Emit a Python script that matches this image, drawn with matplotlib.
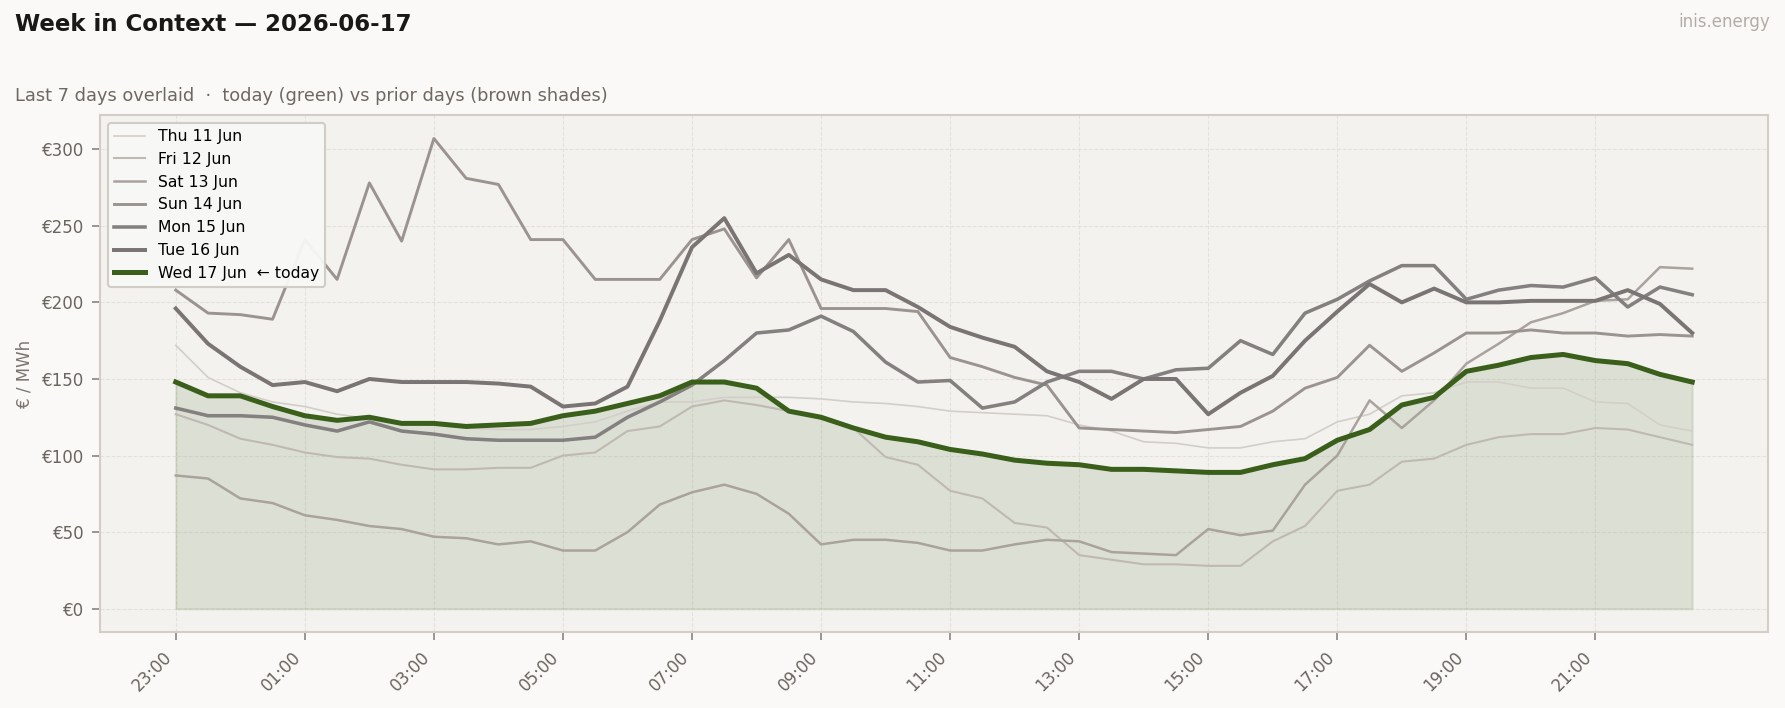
import matplotlib
matplotlib.use('Agg')
import matplotlib.pyplot as plt
from matplotlib import ticker
import numpy as np

# half-hour slots, 23:00 .. 22:30
tick_labels = ["23:00", "01:00", "03:00", "05:00", "07:00", "09:00",
               "11:00", "13:00", "15:00", "17:00", "19:00", "21:00"]

day_names = ["Thu 11 Jun", "Fri 12 Jun", "Sat 13 Jun", "Sun 14 Jun",
             "Mon 15 Jun", "Tue 16 Jun"]
today_name = "Wed 17 Jun  \u2190 today"

thu = [172, 151, 141, 135, 132, 127, 124, 121, 120, 118, 117, 117, 119, 122, 129, 135,
       135, 138, 138, 138, 137, 135, 134, 132, 129, 128, 127, 126, 120, 116, 109, 108,
       105, 105, 109, 111, 122, 127, 139, 141, 148, 148, 144, 144, 135, 134, 120, 116]
fri = [127, 120, 111, 107, 102, 99, 98, 94, 91, 91, 92, 92, 100, 102, 116, 119,
       132, 136, 133, 129, 124, 118, 99, 94, 77, 72, 56, 53, 35, 32, 29, 29,
       28, 28, 44, 54, 77, 81, 96, 98, 107, 112, 114, 114, 118, 117, 112, 107]
sat = [87, 85, 72, 69, 61, 58, 54, 52, 47, 46, 42, 44, 38, 38, 50, 68,
       76, 81, 75, 62, 42, 45, 45, 43, 38, 38, 42, 45, 44, 37, 36, 35,
       52, 48, 51, 81, 100, 136, 118, 136, 160, 173, 187, 193, 201, 202, 223, 222]
sun = [208, 193, 192, 189, 241, 215, 278, 240, 307, 281, 277, 241, 241, 215, 215, 215,
       241, 248, 216, 241, 196, 196, 196, 194, 164, 158, 151, 146, 118, 117, 116, 115,
       117, 119, 129, 144, 151, 172, 155, 167, 180, 180, 182, 180, 180, 178, 179, 178]
mon = [131, 126, 126, 125, 120, 116, 122, 116, 114, 111, 110, 110, 110, 112, 125, 135,
       146, 162, 180, 182, 191, 181, 161, 148, 149, 131, 135, 148, 155, 155, 150, 156,
       157, 175, 166, 193, 202, 214, 224, 224, 202, 208, 211, 210, 216, 197, 210, 205]
tue = [196, 173, 158, 146, 148, 142, 150, 148, 148, 148, 147, 145, 132, 134, 145, 188,
       236, 255, 219, 231, 215, 208, 208, 197, 184, 177, 171, 155, 148, 137, 150, 150,
       127, 141, 152, 175, 194, 212, 200, 209, 200, 200, 201, 201, 201, 208, 199, 180]
wed = [148, 139, 139, 132, 126, 123, 125, 121, 121, 119, 120, 121, 126, 129, 134, 139,
       148, 148, 144, 129, 125, 118, 112, 109, 104, 101, 97, 95, 94, 91, 91, 90,
       89, 89, 94, 98, 110, 117, 133, 138, 155, 159, 164, 166, 162, 160, 153, 148]

prior = [thu, fri, sat, sun, mon, tue]
shades = ["#d3cec9", "#bfb8b3", "#aaa29d", "#9b938f", "#848080", "#7a7574"]
widths = [0.8, 1.0, 1.2, 1.4, 1.7, 1.9]
green = "#3a5f1b"

x = np.arange(len(wed))

fig = plt.figure(figsize=(11.9, 4.72), dpi=150, facecolor="#faf9f7")
ax = fig.add_axes([0.056, 0.107, 0.9345, 0.7306])
ax.set_facecolor("#f3f2ee")

ax.fill_between(x, 0, wed, color=green, alpha=0.12, zorder=1)
for vals, name, c, lw in zip(prior, day_names, shades, widths):
    ax.plot(x, vals, color=c, lw=lw, label=name, zorder=2)
ax.plot(x, wed, color=green, lw=2.4, label=today_name, zorder=3)

ax.set_xticks(x[::4])
ax.set_xticklabels(tick_labels, rotation=45, ha="right")
ax.yaxis.set_major_locator(ticker.MultipleLocator(50))
ax.yaxis.set_major_formatter(ticker.FuncFormatter(lambda v, p: "\u20ac%d" % v))
ax.set_ylabel("\u20ac / MWh", fontsize=8, color="#7a746f")

ax.grid(True, linestyle="--", linewidth=0.5, color="#e4e1dc", zorder=0)
ax.set_axisbelow(True)
for s in ax.spines.values():
    s.set_color("#d2cdc7")
    s.set_linewidth(1.0)
ax.tick_params(colors="#8a847f", labelcolor="#6b6560", labelsize=8, length=4)

leg = ax.legend(loc="upper left", fontsize=7.5, frameon=True, fancybox=True)
leg.get_frame().set_facecolor("#f8f8f6")
leg.get_frame().set_edgecolor("#cfcac4")
leg.get_frame().set_alpha(0.95)

fig.text(0.0084, 0.965, "Week in Context \u2014 2026-06-17", fontsize=11,
         fontweight="bold", color="#1a1816", va="center")
fig.text(0.0084, 0.865, "Last 7 days overlaid  \u00b7  today (green) vs prior days (brown shades)",
         fontsize=8.5, color="#6e6863", va="center")
fig.text(0.9916, 0.969, "inis.energy", fontsize=8, color="#b3ada8", ha="right", va="center")

plt.savefig("out.png", dpi=150, facecolor=fig.get_facecolor())
